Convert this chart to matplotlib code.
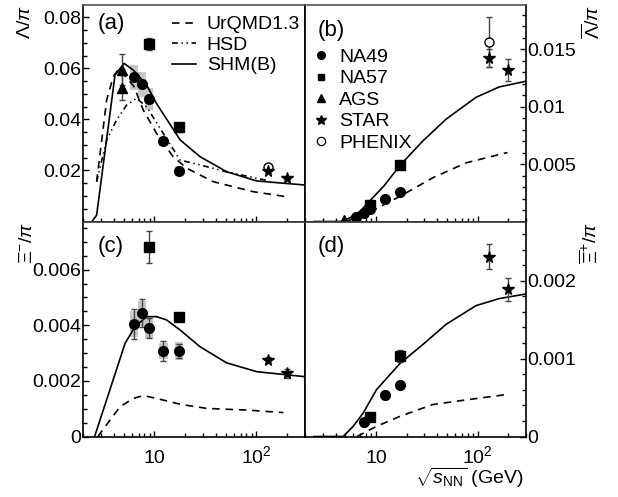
import numpy as np
import matplotlib
matplotlib.use("Agg")
import matplotlib.pyplot as plt
from matplotlib.ticker import MultipleLocator, LogLocator, FixedLocator, FixedFormatter, NullFormatter, FuncFormatter
from matplotlib.patches import Rectangle
from matplotlib.lines import Line2D

plt.rcParams['font.family'] = ['Liberation Sans', 'DejaVu Sans']
plt.rcParams['mathtext.fontset'] = 'custom'
plt.rcParams['mathtext.rm'] = 'Liberation Sans'
plt.rcParams['mathtext.it'] = 'Liberation Sans:italic'
plt.rcParams['mathtext.bf'] = 'Liberation Sans:bold'

# ---------------- data ----------------
x_ags = [4.86]
x_na49 = [6.3, 7.6, 8.8, 12.3, 17.3]
x_na57 = [8.8, 17.3]
x_star = [130, 200]
x_phenix = [130]

# (a) Lambda/pi
a_ags_x = [4.86, 4.86]
a_ags = [0.0595, 0.0525]
a_ags_err = [0.006, 0.005]
a_na49 = [0.0565, 0.0538, 0.048, 0.0314, 0.0199]
a_na49_err = [0.001, 0.001, 0.001, 0.0008, 0.0006]
a_na49_sys = [0.0048, 0.0048, 0.0043, 0.0017, 0.002]
a_na57 = [0.0696, 0.0369]
a_na57_err = [0.0022, 0.0018]
a_star = [0.0198, 0.0172]
a_star_err = [0.0006, 0.0005]
a_phenix = [0.0215]
a_phenix_err = [0.0008]
a_shm_x = [2.45, 2.72, 4.12, 5.05, 6.22, 8.41, 10.5, 17.9, 28.1, 51.3, 101, 300]
a_shm_y = [0.0, 0.0025, 0.0574, 0.062, 0.0594, 0.0535, 0.0463, 0.032, 0.0254, 0.0195, 0.0159, 0.0143]
a_urqmd_x = [2.72, 3.41, 3.96, 4.5, 6.3, 7.8, 10.5, 15.3, 20.8, 37.9, 93, 199]
a_urqmd_y = [0.0156, 0.0476, 0.0568, 0.060, 0.053, 0.0437, 0.0346, 0.0254, 0.0209, 0.0156, 0.0117, 0.0097]
a_hsd_x = [2.72, 3.41, 4.27, 5.36, 6.71, 8.41, 12.2, 17.9, 28, 51, 130]
a_hsd_y = [0.0156, 0.032, 0.0398, 0.0457, 0.0483, 0.045, 0.0346, 0.0241, 0.0222, 0.0195, 0.016]

# (b) anti-Lambda/pi
b_ags = [0.00013]
b_na49 = [0.00039, 0.00077, 0.00106, 0.00198, 0.00257]
b_na57 = [0.00143, 0.0049]
b_star = [0.0142, 0.0132]
b_star_err = [0.0008, 0.00095]
b_phenix = [0.0156]
b_phenix_err = [0.0022]
b_shm_x = [2.45, 4.5, 5.5, 7.0, 8.7, 12.0, 17.3, 28.9, 49, 96.6, 163, 300]
b_shm_y = [0.0, 0.0, 0.0003, 0.0009, 0.0018, 0.0031, 0.0049, 0.007, 0.0089, 0.0108, 0.0117, 0.0122]
b_urqmd_x = [5.0, 6.9, 8.0, 17.3, 36.2, 77, 197]
b_urqmd_y = [0.0, 0.0004, 0.00065, 0.0022, 0.0038, 0.0051, 0.006]

# (c) Xi-/pi
c_na49 = [0.00405, 0.00443, 0.00389, 0.00308, 0.00308]
c_na49_err = [0.00055, 0.0005, 0.00036, 0.00036, 0.00026]
c_na49_sys = [0.00047, 0.00045, 0.0004, 0.00028, 0.00033]
c_na57 = [0.00681, 0.00429]
c_na57_err = [0.00059, 0.00015]
c_star = [0.00275, 0.00227]
c_star_err = [0.00012, 0.00015]
c_shm_x = [2.6, 5.17, 6.47, 8.41, 10.5, 13.2, 17.9, 28, 51, 101, 300]
c_shm_y = [0.0, 0.00335, 0.00395, 0.00431, 0.00431, 0.00419, 0.00383, 0.00323, 0.00265, 0.00233, 0.00215]
c_urqmd_x = [2.8, 3.68, 4.62, 6.22, 7.8, 10.5, 17.9, 32.6, 80.5, 184]
c_urqmd_y = [0.0, 0.00059, 0.00107, 0.00137, 0.00147, 0.00137, 0.00116, 0.00101, 0.00095, 0.00086]

# (d) anti-Xi+/pi
d_na49_x = [7.6, 12.3, 17.3]
d_na49 = [0.00019, 0.00053, 0.00066]
d_na49_err = [0.00003, 0.00005, 0.00004]
d_na57 = [0.00025, 0.00103]
d_na57_err = [0.00004, 0.00008]
d_star = [0.00231, 0.00189]
d_star_err = [0.00016, 0.00015]
d_shm_x = [2.45, 4.75, 5.96, 7.47, 10.1, 17.3, 28.9, 49, 96.6, 163, 300]
d_shm_y = [0.0, 0.0, 0.00013, 0.0003, 0.0006, 0.00094, 0.00118, 0.00144, 0.00168, 0.00177, 0.00183]
d_urqmd_x = [6.5, 10.1, 17.3, 36.2, 77, 197]
d_urqmd_y = [0.0, 0.00013, 0.00026, 0.00041, 0.00047, 0.00054]

xticks_major = [10, 100]
xtick_labels = ['10', r'$10^{2}$']

# ---------------- figure ----------------
W, H = 618, 497
fig = plt.figure(figsize=(W / 100, H / 100), dpi=100)

def ax_at(x0, y0, x1, y1):
    return fig.add_axes([x0 / W, 1 - y1 / H, (x1 - x0) / W, (y1 - y0) / H])

axA = ax_at(83, 5, 305, 221.5)
axB = ax_at(305, 5, 526, 221.5)
axC = ax_at(83, 221.5, 305, 436.5)
axD = ax_at(305, 221.5, 526, 436.5)

DASH = (0, (4.5, 3.5))
DDOT = (0, (3.5, 2.2, 0.8, 2.2, 0.8, 2.2))
LW = 1.2
MS = 6.5
ERRC = '#444444'
SYSC = '#c8c8c8'
FS = 14

def sysboxes(ax, xs, ys, es):
    f = 10 ** 0.04
    for x, y, e in zip(xs, ys, es):
        ax.add_patch(Rectangle((x / f, y - e), x * f - x / f, 2 * e,
                               facecolor=SYSC, edgecolor='none', zorder=1))

def errs(ax, xs, ys, es):
    ax.errorbar(xs, ys, yerr=es, fmt='none', ecolor=ERRC, elinewidth=1.0,
                capsize=2, capthick=1.0, zorder=3)

def style(ax, right, ylim, xlabels):
    ax.set_xscale('log')
    ax.set_xlim(2, 300)
    ax.set_ylim(*ylim)
    ax.xaxis.set_major_locator(FixedLocator(xticks_major))
    ax.xaxis.set_minor_locator(LogLocator(base=10, subs=np.arange(2, 10)))
    ax.xaxis.set_minor_formatter(NullFormatter())
    if xlabels:
        ax.xaxis.set_major_formatter(FixedFormatter(xtick_labels))
    else:
        ax.xaxis.set_major_formatter(NullFormatter())
    ax.tick_params(axis='both', which='both', direction='in', labelsize=FS,
                   top=False, bottom=True, width=1.0)
    ax.tick_params(which='major', length=4.5)
    ax.tick_params(which='minor', length=2.8)
    ax.tick_params(axis='y', pad=1)
    ax.tick_params(axis='x', pad=6)
    if right:
        ax.yaxis.tick_right()
        ax.tick_params(axis='y', which='both', left=False, right=True,
                       labelleft=False, labelright=True, direction='in')
    else:
        ax.tick_params(axis='y', which='both', left=True, right=False)
    for s in ax.spines.values():
        s.set_linewidth(1.2)
        s.set_color('black')

def fmt(v, pos):
    if v == 0:
        return '0'
    return '%g' % v

# (a)
ax = axA
sysboxes(ax, x_na49, a_na49, a_na49_sys)
ax.plot(a_urqmd_x, a_urqmd_y, color='black', lw=LW, ls=DASH, label='UrQMD1.3', zorder=2)
ax.plot(a_hsd_x, a_hsd_y, color='black', lw=LW, ls=DDOT, label='HSD', zorder=2)
ax.plot(a_shm_x, a_shm_y, color='black', lw=LW, ls='-', label='SHM(B)', zorder=2)
errs(ax, a_ags_x, a_ags, a_ags_err)
errs(ax, x_na49, a_na49, a_na49_err)
errs(ax, x_na57, a_na57, a_na57_err)
errs(ax, x_star, a_star, a_star_err)
errs(ax, x_phenix, a_phenix, a_phenix_err)
ax.plot(a_ags_x, a_ags, '^', color='black', ms=MS, ls='none', zorder=4)
ax.plot(x_na49, a_na49, 'o', color='black', ms=MS + 0.5, ls='none', zorder=4)
ax.plot(x_na57, a_na57, 's', color='black', ms=MS, ls='none', zorder=4)
ax.plot(x_phenix, a_phenix, 'o', mfc='white', mec='black', mew=1.0, ms=MS, ls='none', zorder=4)
ax.plot(x_star, a_star, '*', color='black', ms=MS + 2, ls='none', zorder=5)
style(ax, False, (0, 0.0849), False)
ax.set_yticks([0.02, 0.04, 0.06, 0.08])
ax.yaxis.set_minor_locator(MultipleLocator(0.005))
ax.yaxis.set_major_formatter(FuncFormatter(fmt))
ax.text(0.065, 0.915, '(a)', transform=ax.transAxes, fontsize=16, ha='left', va='center')
ax.legend(loc='upper left', bbox_to_anchor=(0.40, 0.95), frameon=False, fontsize=FS,
          handlelength=1.25, handletextpad=0.55, labelspacing=0.15, borderpad=0,
          borderaxespad=0)

# (b)
ax = axB
ax.plot(b_urqmd_x, b_urqmd_y, color='black', lw=LW, ls=DASH, zorder=2)
ax.plot(b_shm_x, b_shm_y, color='black', lw=LW, ls='-', zorder=2)
errs(ax, x_star, b_star, b_star_err)
errs(ax, x_phenix, b_phenix, b_phenix_err)
ax.plot(x_ags, b_ags, '^', color='black', ms=MS, ls='none', zorder=4)
ax.plot(x_na49, b_na49, 'o', color='black', ms=MS + 0.5, ls='none', zorder=4)
ax.plot(x_na57, b_na57, 's', color='black', ms=MS, ls='none', zorder=4)
ax.plot(x_phenix, b_phenix, 'o', mfc='white', mec='black', mew=1.0, ms=MS, ls='none', zorder=4)
ax.plot(x_star, b_star, '*', color='black', ms=MS + 2, ls='none', zorder=5)
style(ax, True, (0, 0.01883), False)
ax.set_yticks([0.005, 0.01, 0.015])
ax.yaxis.set_minor_locator(MultipleLocator(0.001))
ax.yaxis.set_major_formatter(FuncFormatter(fmt))
ax.text(0.055, 0.88, '(b)', transform=ax.transAxes, fontsize=16, ha='left', va='center')
hb = [Line2D([], [], marker='o', color='black', ls='none', ms=5.5),
      Line2D([], [], marker='s', color='black', ls='none', ms=5),
      Line2D([], [], marker='^', color='black', ls='none', ms=5.5),
      Line2D([], [], marker='*', color='black', ls='none', ms=7),
      Line2D([], [], marker='o', mfc='white', mec='black', mew=0.9, ls='none', ms=6)]
ax.legend(hb, ['NA49', 'NA57', 'AGS', 'STAR', 'PHENIX'], loc='upper left',
          bbox_to_anchor=(0.035, 0.80), frameon=False, fontsize=FS,
          handlelength=0.8, handletextpad=0.55, labelspacing=0.2, borderpad=0,
          borderaxespad=0)

# (c)
ax = axC
sysboxes(ax, x_na49, c_na49, c_na49_sys)
ax.plot(c_urqmd_x, c_urqmd_y, color='black', lw=LW, ls=DASH, zorder=2)
ax.plot(c_shm_x, c_shm_y, color='black', lw=LW, ls='-', zorder=2)
errs(ax, x_na49, c_na49, c_na49_err)
errs(ax, x_na57, c_na57, c_na57_err)
errs(ax, x_star, c_star, c_star_err)
ax.plot(x_na49, c_na49, 'o', color='black', ms=MS + 0.5, ls='none', zorder=4)
ax.plot(x_na57, c_na57, 's', color='black', ms=MS, ls='none', zorder=4)
ax.plot(x_star, c_star, '*', color='black', ms=MS + 2, ls='none', zorder=5)
style(ax, False, (0, 0.00773), True)
ax.set_yticks([0, 0.002, 0.004, 0.006])
ax.yaxis.set_minor_locator(MultipleLocator(0.0005))
ax.yaxis.set_major_formatter(FuncFormatter(fmt))
ax.text(0.065, 0.885, '(c)', transform=ax.transAxes, fontsize=16, ha='left', va='center')

# (d)
ax = axD
ax.plot(d_urqmd_x, d_urqmd_y, color='black', lw=LW, ls=DASH, zorder=2)
ax.plot(d_shm_x, d_shm_y, color='black', lw=LW, ls='-', zorder=2)
errs(ax, d_na49_x, d_na49, d_na49_err)
errs(ax, x_na57, d_na57, d_na57_err)
errs(ax, x_star, d_star, d_star_err)
ax.plot(d_na49_x, d_na49, 'o', color='black', ms=MS + 0.5, ls='none', zorder=4)
ax.plot(x_na57, d_na57, 's', color='black', ms=MS, ls='none', zorder=4)
ax.plot(x_star, d_star, '*', color='black', ms=MS + 2, ls='none', zorder=5)
style(ax, True, (0, 0.00276), True)
ax.set_yticks([0, 0.001, 0.002])
ax.yaxis.set_minor_locator(MultipleLocator(0.0002))
ax.yaxis.set_major_formatter(FuncFormatter(fmt))
ax.text(0.055, 0.885, '(d)', transform=ax.transAxes, fontsize=16, ha='left', va='center')

# spines between rows slightly gray
for a in (axA, axB):
    a.spines['top'].set_color('#555555')
    a.spines['bottom'].set_color('#333333')
for a in (axC, axD):
    a.spines['top'].set_color('#333333')

# x tick labels on a common baseline
for a in (axC, axD):
    for lbl in a.get_xticklabels():
        lbl.set_va('baseline')
    a.tick_params(axis='x', pad=19)

# axis labels
fig.text(26 / W, 1 - 5 / H, r'$\Lambda/\pi$', rotation=90, ha='center', va='top', fontsize=FS)
fig.text(592 / W, 1 - 5 / H, r'$\overline{\Lambda}/\pi$', rotation=90, ha='center', va='top', fontsize=FS)
fig.text(28 / W, 1 - 222 / H, r'$\Xi^{-}/\pi$', rotation=90, ha='center', va='top', fontsize=FS)
fig.text(590 / W, 1 - 222 / H, r'$\overline{\Xi}^{+}/\pi$', rotation=90, ha='center', va='top', fontsize=FS)
fig.text(524 / W, 1 - 478 / H, r'$\sqrt{s_{\rm NN}}$ (GeV)', ha='right', va='center', fontsize=FS)

fig.savefig('out.png', dpi=100)
